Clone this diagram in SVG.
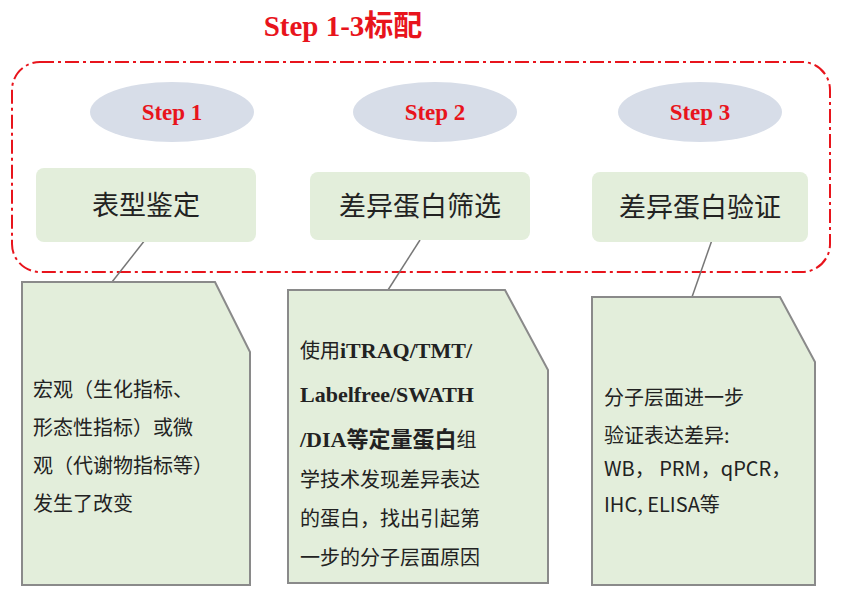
<svg xmlns="http://www.w3.org/2000/svg" width="848" height="603" viewBox="0 0 848 603">
<style>
.ell{fill:#d7dde8}
.hd{fill:#e3eedb}
.st{font-family:"Liberation Serif",serif;font-weight:bold;font-size:23px;fill:#e8141c;text-anchor:middle}
.ht{font-family:"Noto Sans CJK SC",sans-serif;font-size:27px;fill:#222;text-anchor:middle}
.doc{fill:#e3eedb;stroke:#8a8a8a;stroke-width:2}
.bt{font-family:"Noto Sans CJK SC",sans-serif;font-size:20px;fill:#222}
.bs{font-family:"Liberation Serif","Noto Sans CJK SC",serif;font-weight:bold;font-size:22px;fill:#222}
</style>
<rect width="848" height="603" fill="#fff"/>
<text x="343" y="36" font-family="Liberation Serif,Noto Sans CJK SC,serif" font-weight="bold" font-size="29" fill="#e8141c" text-anchor="middle">Step 1-3标配</text>
<rect x="12" y="62" width="818" height="210" rx="28" fill="none" stroke="#e8141c" stroke-width="2" stroke-dasharray="14,4,3,4"/>
<g id="connectors" stroke="#777" stroke-width="1.5">
<line x1="145" y1="240" x2="112" y2="282"/>
<line x1="420" y1="240" x2="388" y2="290"/>
<line x1="712" y1="240" x2="692" y2="297"/>
</g>
<g id="step1"><ellipse class="ell" cx="172" cy="112" rx="82" ry="30"/><text class="st" x="172" y="120">Step 1</text></g>
<g id="step2"><ellipse class="ell" cx="435" cy="112" rx="82" ry="30"/><text class="st" x="435" y="120">Step 2</text></g>
<g id="step3"><ellipse class="ell" cx="700" cy="112" rx="82" ry="30"/><text class="st" x="700" y="120">Step 3</text></g>
<g id="h1"><rect class="hd" x="36" y="168" width="220" height="74" rx="8"/><text class="ht" x="146" y="215">表型鉴定</text></g>
<g id="h2"><rect class="hd" x="310" y="172" width="220" height="68" rx="8"/><text class="ht" x="420" y="216">差异蛋白筛选</text></g>
<g id="h3"><rect class="hd" x="592" y="172" width="216" height="70" rx="8"/><text class="ht" x="700" y="217">差异蛋白验证</text></g>
<g id="doc1"><path class="doc" d="M22 282 H215 L250 352 V585 H22 Z"/>
<text class="bt" x="33" y="397">宏观（生化指标、</text>
<text class="bt" x="33" y="435">形态性指标）或微</text>
<text class="bt" x="33" y="473">观（代谢物指标等）</text>
<text class="bt" x="33" y="511">发生了改变</text></g>
<g id="doc2"><path class="doc" d="M288 290 H505 L548 370 V583 H288 Z"/>
<text x="300" y="358"><tspan class="bt">使用</tspan><tspan class="bs">iTRAQ/TMT/</tspan></text>
<text class="bs" x="300" y="402">Labelfree/SWATH</text>
<text x="300" y="447"><tspan class="bs">/DIA等定量蛋白</tspan><tspan class="bt">组</tspan></text>
<text class="bt" x="300" y="487">学技术发现差异表达</text>
<text class="bt" x="300" y="526">的蛋白，找出引起第</text>
<text class="bt" x="300" y="565">一步的分子层面原因</text></g>
<g id="doc3"><path class="doc" d="M592 297 H780 L815 362 V585 H592 Z"/>
<text class="bt" x="604" y="405">分子层面进一步</text>
<text class="bt" x="604" y="443">验证表达差异:</text>
<text class="bt" x="604" y="476" font-size="17">WB， PRM，qPCR，</text>
<text class="bt" x="604" y="512" font-size="17">IHC, ELISA等</text></g>
</svg>
